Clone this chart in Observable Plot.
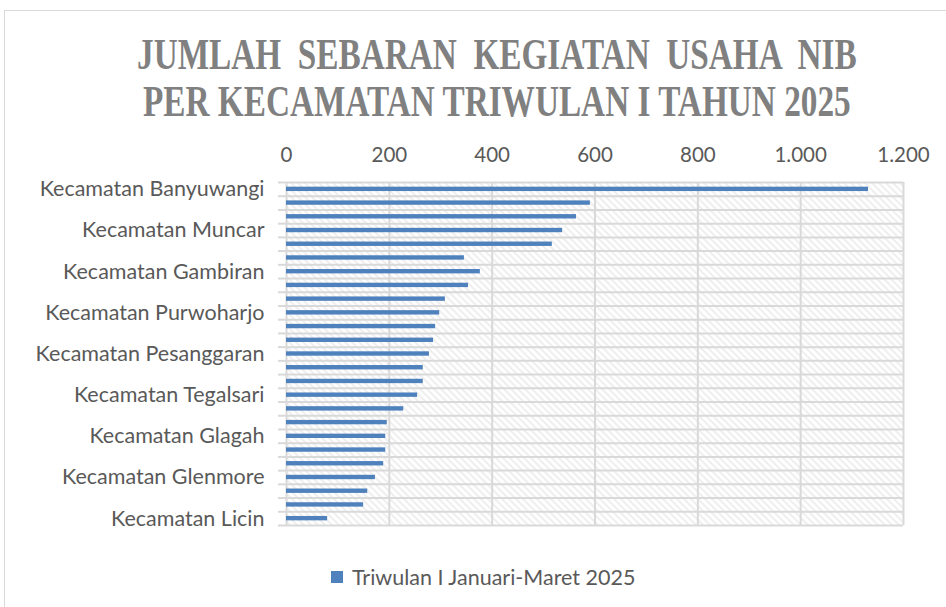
<!DOCTYPE html>
<html><head><meta charset="utf-8">
<script src="https://cdn.jsdelivr.net/npm/d3@7"></script>
<script src="https://cdn.jsdelivr.net/npm/@observablehq/plot@0.6"></script>
<style>
body{margin:0;background:#fff;}
#wrap{position:relative;width:946px;height:607px;overflow:hidden;background:#fff;}
#border{position:absolute;left:4px;top:10px;width:980px;height:640px;border:1.5px solid #d9d9d9;box-sizing:border-box;}
#title{position:absolute;left:0;top:0;}
#chart{position:absolute;left:0;top:130px;}
#legend{position:absolute;left:331px;top:564px;font-family:Lato,sans-serif;font-size:21.5px;color:#595959;display:flex;align-items:center;}
#legend span.sw{display:inline-block;width:12px;height:12px;background:#4F81BD;margin-right:9px;}
</style></head>
<body>
<svg width="0" height="0" style="position:absolute">
  <defs>
    <pattern id="hatch" patternUnits="userSpaceOnUse" width="7" height="7">
      <rect width="7" height="7" fill="#fff"/>
      <path d="M0,0L7,7M-1,6L1,8M6,-1L8,1" stroke="#e6e6e6" stroke-width="1.3"/>
    </pattern>
  </defs>
</svg>
<div id="wrap">
  <div id="border"></div>
  <svg id="title" width="946" height="130"></svg>
  <div id="chart"></div>
  <div id="legend"></div>
</div>
<script>
const titleLines = ["JUMLAH  SEBARAN  KEGIATAN  USAHA  NIB", "PER KECAMATAN TRIWULAN I TAHUN 2025"];
const seriesName = "Triwulan I Januari-Maret 2025";
const names = [
  "Kecamatan Banyuwangi","Kecamatan Genteng","Kecamatan Rogojampi","Kecamatan Muncar","Kecamatan Srono",
  "Kecamatan Kalipuro","Kecamatan Gambiran","Kecamatan Cluring","Kecamatan Bangorejo","Kecamatan Purwoharjo",
  "Kecamatan Wongsorejo","Kecamatan Tegaldlimo","Kecamatan Pesanggaran","Kecamatan Sempu","Kecamatan Kabat",
  "Kecamatan Tegalsari","Kecamatan Singojuruh","Kecamatan Kalibaru","Kecamatan Glagah","Kecamatan Siliragung",
  "Kecamatan Songgon","Kecamatan Glenmore","Kecamatan Blimbingsari","Kecamatan Giri","Kecamatan Licin"
];
const values = [1132, 591, 564, 537, 517, 346, 377, 354, 309, 298, 290, 286, 278, 266, 266, 255, 228, 196, 193, 193, 189, 173, 158, 150, 80];
const labelledRows = [0, 3, 6, 9, 12, 15, 18, 21, 24];
const xTicks = [0, 200, 400, 600, 800, 1000, 1200];

// title: condensed by horizontal scaling to the reference widths
const tsvg = d3.select("#title");
[[137, 69, 720], [143, 116, 708]].forEach(([x, y, len], k) => {
  const g = tsvg.append("g");
  const t = g.append("text").attr("x", 0).attr("y", 0)
    .attr("font-family", "Liberation Serif, serif").attr("font-weight", "bold")
    .attr("font-size", 45).attr("fill", "#808080").style("white-space", "pre").text(titleLines[k]);
  const w = t.node().getComputedTextLength();
  g.attr("transform", `translate(${x},${y}) scale(${len / w},1)`);
});

const rows = names.map((n, i) => ({name: n, value: values[i], i}));
const fmt = d => d3.format(",")(d).replace(/,/g, ".");

const chart = Plot.plot({
  width: 946, height: 415,
  marginLeft: 286, marginRight: 43, marginTop: 52, marginBottom: 20,
  style: {fontFamily: "Lato, sans-serif", fontSize: "20px", color: "#595959", background: "transparent"},
  x: {domain: [0, 1200], axis: null, label: null},
  y: {domain: [25, 0], axis: null, label: null},
  marks: [
    Plot.frame({fill: "url(#hatch)", stroke: null}),
    Plot.ruleX(xTicks, {stroke: "#d9d9d9", strokeWidth: 2}),
    Plot.ruleY(d3.range(26), {stroke: "#d9d9d9", strokeWidth: 2}),
    Plot.axisY({ticks: d3.range(26), tickSize: 8, tickFormat: () => "", label: null, stroke: "#d9d9d9", strokeWidth: 2, strokeOpacity: 1}),
    Plot.axisY({ticks: labelledRows.map(i => i + 0.5), tickSize: 0, tickPadding: 22, label: null,
      tickFormat: v => names[Math.floor(v)], fontSize: 21.5, fill: "#595959"}),
    Plot.axisX({anchor: "top", ticks: xTicks, tickSize: 0, tickPadding: 21, label: null, tickFormat: fmt, fontSize: 20.5, fill: "#595959"}),
    Plot.rect(rows, {x1: 0, x2: "value", y1: d => d.i + 0.34, y2: d => d.i + 0.66, fill: "#4F81BD"})
  ]
});
document.getElementById("chart").appendChild(chart);

const lg = document.getElementById("legend");
lg.innerHTML = `<span class="sw"></span><span>${seriesName}</span>`;
</script>
</body></html>
